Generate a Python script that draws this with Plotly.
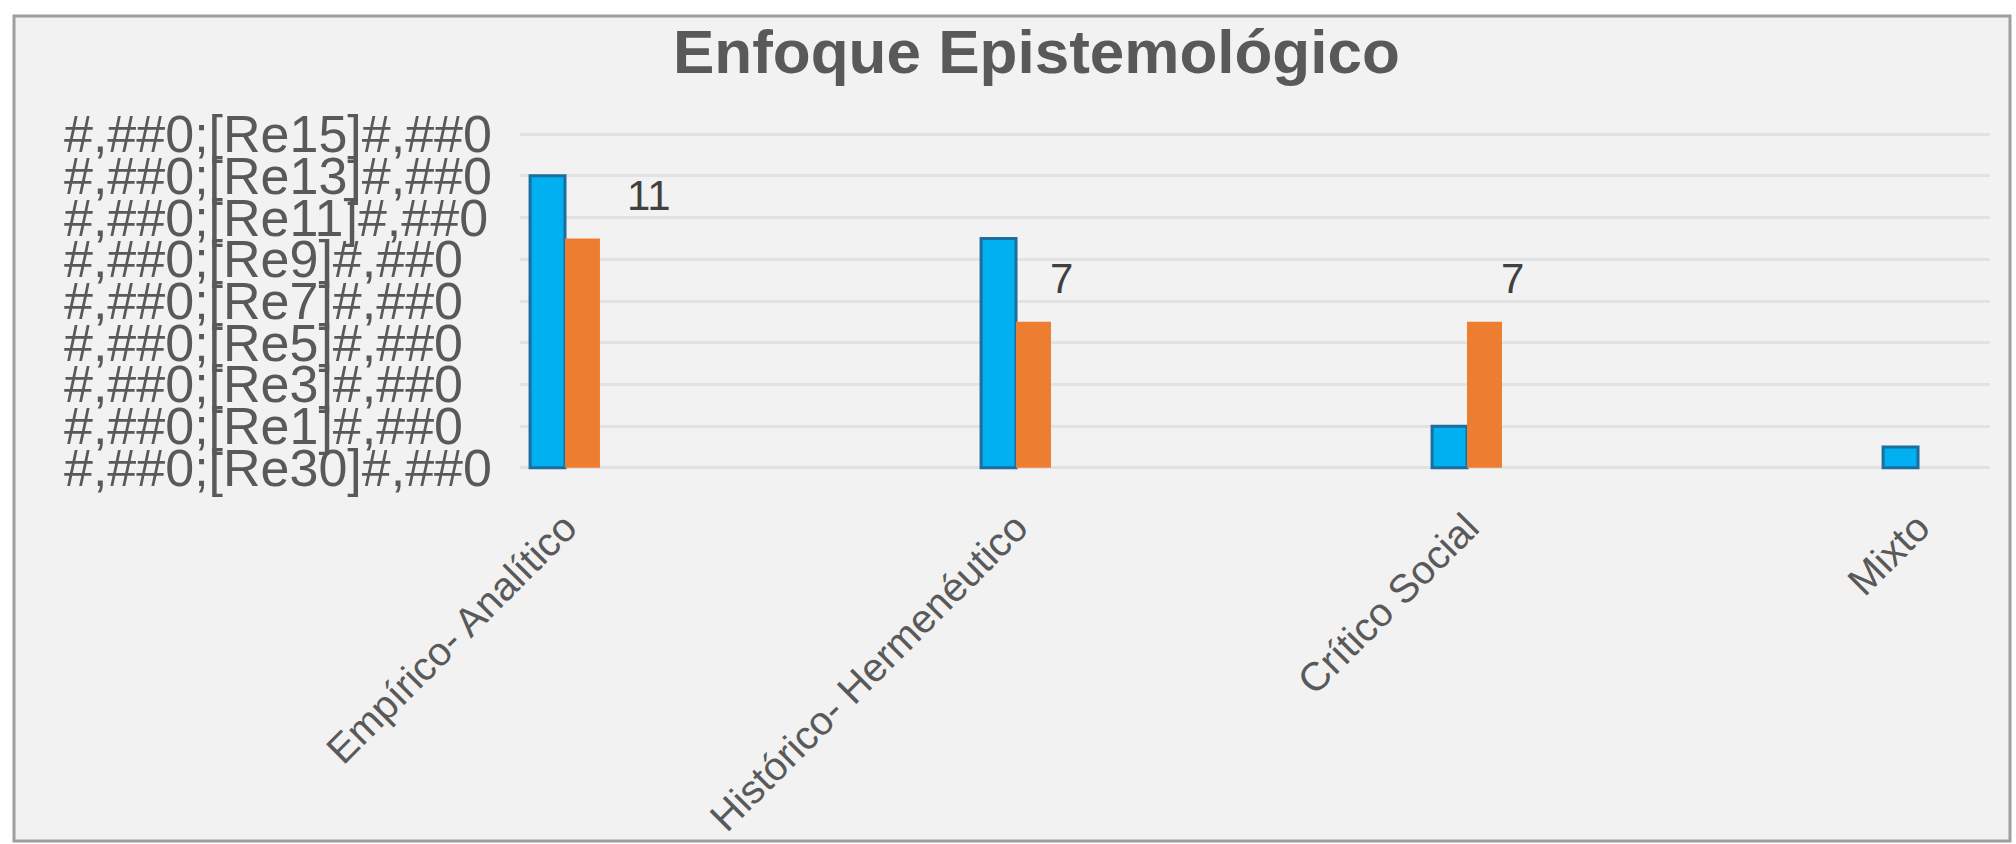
import plotly.graph_objects as go

# ---- data ----
categories = ["Empírico- Analítico", "Histórico- Hermenéutico", "Crítico Social", "Mixto"]
series_blue = [14, 11, 2, 1]
series_orange = [11, 7, 7, 0]
y_tick_vals = [0, 2, 4, 6, 8, 10, 12, 14, 16]
y_tick_text = [
    "#,##0;[Re30]#,##0",
    "#,##0;[Re1]#,##0",
    "#,##0;[Re3]#,##0",
    "#,##0;[Re5]#,##0",
    "#,##0;[Re7]#,##0",
    "#,##0;[Re9]#,##0",
    "#,##0;[Re11]#,##0",
    "#,##0;[Re13]#,##0",
    "#,##0;[Re15]#,##0",
]
title_text = "Enfoque Epistemológico"

# ---- layout geometry (pixels) ----
W, H = 2016, 844
L, R, T, B = 520, 26, 131, 373
pw, ph = W - L - R, H - T - B

def px_to_paper_x(px):
    return (px - L) / pw

def py_to_paper_y(py):
    return (H - B - py) / ph

FONT = "Liberation Sans, Arial, sans-serif"

fig = go.Figure()
fig.add_trace(go.Bar(
    x=categories, y=series_blue, name="Serie 1",
    marker=dict(color="#00B0F0", line=dict(color="#1C6E9E", width=3)),
))
fig.add_trace(go.Bar(
    x=categories, y=series_orange, name="Serie 2",
    marker=dict(color="#ED7D31", line=dict(width=0)),
))

annotations = []
# y tick labels (left aligned as in the reference)
for v, t in zip(y_tick_vals, y_tick_text):
    annotations.append(dict(
        x=px_to_paper_x(62), xref="paper", y=v, yref="y",
        text=t, showarrow=False, xanchor="left", yanchor="middle",
        font=dict(family=FONT, size=52, color="#595959"),
    ))

# data labels for orange series
label_xshift = [84, 45, 45, 45]
for c, v, xs in zip(categories, series_orange, label_xshift):
    if v:
        annotations.append(dict(
            x=c, xref="x", y=v, yref="y", text=str(v), showarrow=False,
            xshift=xs, yshift=43, xanchor="center", yanchor="middle",
            font=dict(family=FONT, size=42, color="#404040"),
        ))

# title
annotations.append(dict(
    x=px_to_paper_x(1036), xref="paper", y=py_to_paper_y(52), yref="paper",
    text="<b>" + title_text + "</b>", showarrow=False, xanchor="center", yanchor="middle",
    font=dict(family=FONT, size=62, color="#595959"),
))

shapes = [dict(
    type="rect", xref="paper", yref="paper",
    x0=px_to_paper_x(14), x1=px_to_paper_x(2010),
    y0=py_to_paper_y(841), y1=py_to_paper_y(16),
    fillcolor="#F2F2F2", line=dict(color="#9E9E9E", width=3), layer="below",
)]

fig.update_layout(
    width=W, height=H,
    margin=dict(l=L, r=R, t=T, b=B, pad=0, autoexpand=False),
    paper_bgcolor="white", plot_bgcolor="rgba(0,0,0,0)",
    barmode="group", bargap=0.845, bargroupgap=0,
    showlegend=False,
    annotations=annotations, shapes=shapes,
    font=dict(family=FONT, color="#595959"),
)
fig.update_xaxes(
    range=[-0.0998, 3.1596], showgrid=False, zeroline=False, showline=False,
    tickangle=-45, ticks="", tickfont=dict(family=FONT, size=40, color="#595959"),
    ticklabelstandoff=24, automargin=False,
)
fig.update_yaxes(
    range=[-0.15, 16.15], tickvals=y_tick_vals, showticklabels=False, automargin=False,
    showgrid=True, gridcolor="#E2E2E2", gridwidth=3, zeroline=False, showline=False,
)

fig.write_html(
    "out.html",
    config={"displayModeBar": False},
    post_script="document.body.style.margin='0';document.body.style.overflow='hidden';",
)
